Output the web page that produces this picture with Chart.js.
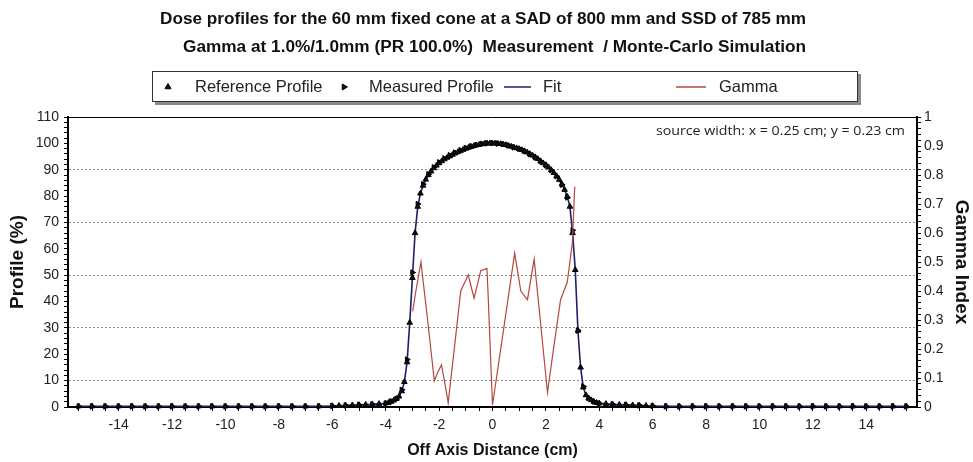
<!DOCTYPE html>
<html>
<head>
<meta charset="utf-8">
<script src="https://cdn.jsdelivr.net/npm/chart.js@4.4.1/dist/chart.umd.min.js"></script>
<style>
  html, body { margin: 0; background: #fff; }
  canvas { display: block; }
</style>
</head>
<body>
<canvas id="c" width="973" height="462"></canvas>
<script>
// ── Data ───────────────────────────────────────────────────────────────────
const refX = [-15.5,-15,-14.5,-14,-13.5,-13,-12.5,-12,-11.5,-11,-10.5,-10,-9.5,-9,-8.5,-8,-7.5,-7,-6.5,
  -6,-5.75,-5.5,-5.25,-5,-4.75,-4.5,-4.25,
  -4,-3.9,-3.8,-3.7,-3.6,-3.5,-3.4,-3.3,-3.2,-3.1,-3,-2.9,-2.8,-2.7,-2.6,-2.5,-2.4,-2.3,-2.2,-2.1,
  -2,-1.9,-1.8,-1.7,-1.6,-1.5,-1.4,-1.3,-1.2,-1.1,-1,-0.9,-0.8,-0.7,-0.6,-0.5,-0.4,-0.3,-0.2,-0.1,
  0,0.1,0.2,0.3,0.4,0.5,0.6,0.7,0.8,0.9,1,1.1,1.2,1.3,1.4,1.5,1.6,1.7,1.8,1.9,
  2,2.1,2.2,2.3,2.4,2.5,2.6,2.7,2.8,2.9,3,3.1,3.2,3.3,3.4,3.5,3.6,3.7,3.8,3.9,4,
  4.25,4.5,4.75,5,5.25,5.5,5.75,6,
  6.5,7,7.5,8,8.5,9,9.5,10,10.5,11,11.5,12,12.5,13,13.5,14,14.5,15,15.5];
const refY = [0.3,0.3,0.3,0.3,0.3,0.3,0.3,0.3,0.3,0.3,0.3,0.3,0.3,0.3,0.3,0.3,0.3,0.3,0.3,
  0.4,0.5,0.6,0.7,0.8,0.9,1.0,1.2,
  1.4,1.6,2.0,2.5,3.1,4.0,6.0,9.5,17,32,49,66,76,81,84,86.3,88,89.4,90.6,91.6,
  92.5,93.3,94.0,94.6,95.1,95.7,96.2,96.7,97.1,97.6,98.0,98.4,98.7,99.0,99.3,99.5,99.7,99.9,100,100,
  100,100,99.9,99.8,99.6,99.4,99.1,98.8,98.5,98.2,97.9,97.5,97.1,96.6,96.0,95.4,94.8,94.1,93.3,92.5,
  91.8,90.9,89.9,88.8,87.6,86.2,84.5,82.4,79.8,76,66,52,29,15,7.5,4.5,3.3,2.6,2.0,1.6,1.4,
  1.2,1.0,0.9,0.8,0.7,0.6,0.5,0.4,
  0.3,0.3,0.3,0.3,0.3,0.3,0.3,0.3,0.3,0.3,0.3,0.3,0.3,0.3,0.3,0.3,0.3,0.3,0.3];

const measX = [-15.5,-15,-14.5,-14,-13.5,-13,-12.5,-12,-11.5,-11,-10.5,-10,-9.5,-9,-8.5,-8,-7.5,-7,-6.5,
  -6,-5.5,-5,-4.5,
  -4,-3.8,-3.6,-3.4,-3.2,-3,-2.8,-2.6,-2.4,-2.2,-2,-1.8,-1.6,-1.4,-1.2,-1,-0.8,-0.6,-0.4,-0.2,
  0,0.2,0.4,0.6,0.8,1,1.2,1.4,1.6,1.8,2,2.2,2.4,2.6,2.8,3,3.2,3.4,3.6,3.8,4,
  4.5,5,5.5,6,
  6.5,7,7.5,8,8.5,9,9.5,10,10.5,11,11.5,12,12.5,13,13.5,14,14.5,15,15.5];
const measY = [0.2,0.2,0.2,0.2,0.2,0.2,0.2,0.2,0.2,0.2,0.2,0.2,0.2,0.2,0.2,0.2,0.2,0.2,0.2,
  0.4,0.6,0.8,1.0,
  1.3,2.1,3.0,6.5,18,51,77,84.5,88.3,90.9,92.8,94.3,95.5,96.5,97.4,98.2,98.9,99.4,99.8,100,
  100.1,99.9,99.7,99.2,98.5,97.9,97.0,95.9,94.7,93.2,91.7,89.8,87.5,84.3,79.5,67,29,7.8,3.4,2.1,1.3,
  1.0,0.8,0.6,0.4,
  0.2,0.2,0.2,0.2,0.2,0.2,0.2,0.2,0.2,0.2,0.2,0.2,0.2,0.2,0.2,0.2,0.2,0.2,0.2];

const gamX = [-2.99,-2.87,-2.68,-2.43,-2.18,-2.05,-1.91,-1.78,-1.66,-1.42,-1.19,-0.91,-0.69,-0.44,-0.21,-0.17,
  0.0,0.42,0.83,1.06,1.31,1.56,1.81,2.06,2.3,2.55,2.8,2.99,3.08];
const gamY = [0.33,0.40,0.50,0.30,0.09,0.12,0.145,0.08,0.014,0.21,0.40,0.455,0.375,0.47,0.478,0.40,
  0.007,0.27,0.53,0.40,0.37,0.51,0.28,0.05,0.21,0.37,0.43,0.565,0.76];

const xTickLabels = [-14,-12,-10,-8,-6,-4,-2,0,2,4,6,8,10,12,14];
const yTickLabels = [0,10,20,30,40,50,60,70,80,90,100,110];
const gTickLabels = [0,0.1,0.2,0.3,0.4,0.5,0.6,0.7,0.8,0.9,1];
const yGridLines = [10,30,50,70,90];

const titleLines = [
  "Dose profiles for the 60 mm fixed cone at a SAD of 800 mm and SSD of 785 mm",
  "Gamma at 1.0%/1.0mm (PR 100.0%)  Measurement  / Monte-Carlo Simulation",
];
const legendNames = ["Reference Profile", "Measured Profile", "Fit", "Gamma"];
const sourceNote = "source width: x = 0.25 cm; y = 0.23 cm";

// ── Styling ────────────────────────────────────────────────────────────────
const FONT = "'Liberation Sans', Arial, sans-serif";
const NARROW = "'Liberation Sans Narrow', 'Arial Narrow', 'Liberation Sans', Arial, sans-serif";
const fitColor = "#1c1f6b", gamColor = "#b5473f", txt = "#222";

const pts = (xs, ys) => xs.map((x, i) => ({ x, y: ys[i] }));
const near = (list, v, eps) => list.findIndex((t) => Math.abs(t - v) < eps);

// minor tick positions (axis decoration only)
const xMinor = [], yMinor = [], gMinor = [];
for (let i = -31; i <= 31; i++) xMinor.push(i / 2);
for (let i = 0; i <= 55; i++) yMinor.push(i * 2);
for (let i = 0; i <= 50; i++) gMinor.push(i / 50);

function fitText(ctx, text, x, y, w, align) {
  const m = ctx.measureText(text).width;
  ctx.save();
  ctx.translate(x, y);
  ctx.scale(w / m, 1);
  ctx.textAlign = align;
  ctx.fillText(text, 0, 0);
  ctx.restore();
}

// titles, legend box, source note, top frame
const decor = {
  id: "decor",
  afterDraw(chart) {
    const { ctx, chartArea: a } = chart;
    ctx.save();
    ctx.fillStyle = "#111";
    ctx.textBaseline = "middle";
    ctx.font = "bold 16px " + NARROW;
    fitText(ctx, titleLines[0], 483, 20, 646, "center");
    fitText(ctx, titleLines[1], 494.5, 48, 623, "center");

    // legend frame with shadow
    ctx.fillStyle = "#8a8a8a";
    ctx.fillRect(155, 74, 706, 31);
    ctx.fillStyle = "#fff";
    ctx.fillRect(152, 71, 706, 31);
    ctx.strokeStyle = "#333";
    ctx.lineWidth = 1;
    ctx.strokeRect(152.5, 71.5, 705, 30);

    const ly = 87;
    ctx.fillStyle = "#111"; ctx.strokeStyle = "#111";
    Chart.helpers.drawPoint(ctx, { pointStyle: "triangle", radius: 3.3, rotation: 0, borderWidth: 1 }, 168, ly);
    ctx.fill(); ctx.stroke();
    Chart.helpers.drawPoint(ctx, { pointStyle: "triangle", radius: 3.3, rotation: 90, borderWidth: 1 }, 344, ly);
    ctx.fill(); ctx.stroke();

    ctx.lineWidth = 1.5;
    ctx.strokeStyle = fitColor;
    ctx.beginPath(); ctx.moveTo(504, ly); ctx.lineTo(531, ly); ctx.stroke();
    ctx.strokeStyle = gamColor;
    ctx.beginPath(); ctx.moveTo(676, ly); ctx.lineTo(706, ly); ctx.stroke();

    ctx.fillStyle = txt;
    ctx.font = "16.5px " + FONT;
    ctx.textAlign = "left";
    ctx.fillText(legendNames[0], 195, ly);
    ctx.fillText(legendNames[1], 369, ly);
    ctx.fillText(legendNames[2], 543, ly);
    ctx.fillText(legendNames[3], 719, ly);

    // note in plot corner
    ctx.font = "13px 'Open Sans', " + FONT;
    fitText(ctx, sourceNote, 905, 131, 249, "right");

    // top edge of plot frame
    ctx.strokeStyle = "#000";
    ctx.lineWidth = 1;
    ctx.beginPath(); ctx.moveTo(a.left, a.top + 0.5); ctx.lineTo(a.right, a.top + 0.5); ctx.stroke();
    ctx.restore();
  },
};

const tickFont = { family: FONT, size: 14 };
const titleFont = (size) => ({ family: NARROW, size, weight: "bold" });

new Chart(document.getElementById("c"), {
  type: "scatter",
  data: {
    datasets: [
      { label: legendNames[3], data: pts(gamX, gamY), yAxisID: "y2", showLine: true,
        borderColor: gamColor, borderWidth: 1.2, pointRadius: 0, tension: 0 },
      { label: legendNames[0], data: pts(refX, refY), yAxisID: "y", pointStyle: "triangle",
        pointRadius: 3.2, backgroundColor: "#111", borderColor: "#000", borderWidth: 1, clip: false },
      { label: legendNames[1], data: pts(measX, measY), yAxisID: "y", pointStyle: "triangle", pointRotation: 90,
        pointRadius: 3.2, backgroundColor: "#111", borderColor: "#000", borderWidth: 1, clip: false },
      { label: legendNames[2], data: pts(refX, refY), yAxisID: "y", showLine: true,
        borderColor: fitColor, borderWidth: 1.6, pointRadius: 0, tension: 0 },
    ],
  },
  options: {
    responsive: false,
    animation: false,
    events: [],
    layout: { padding: { top: 117 } },
    plugins: { legend: { display: false }, title: { display: false }, tooltip: { enabled: false } },
    scales: {
      x: {
        type: "linear", min: -15.9, max: 15.9,
        afterFit: (s) => { s.height = 55; },
        afterBuildTicks: (s) => { s.ticks = xMinor.map((v) => ({ value: v })); },
        ticks: { autoSkip: false, maxRotation: 0, color: txt, font: tickFont, padding: 6,
          callback: (v) => (near(xTickLabels, v, 1e-6) >= 0 ? String(v) : "") },
        grid: { drawOnChartArea: false, tickLength: 4, tickColor: "#000" },
        border: { color: "#000", width: 2 },
        title: { display: true, text: "Off Axis Distance (cm)", color: "#111", font: titleFont(16), padding: { top: 0, bottom: 2 } },
      },
      y: {
        position: "left", min: 0, max: 110,
        afterFit: (s) => { s.width = 68; },
        afterBuildTicks: (s) => { s.ticks = yMinor.map((v) => ({ value: v })); },
        ticks: { autoSkip: false, color: txt, font: tickFont, padding: 5,
          callback: (v) => (near(yTickLabels, v, 1e-6) >= 0 ? String(v) : "") },
        grid: {
          color: (c) => (c.tick && yGridLines.includes(c.tick.value) ? "#8c8c8c" : "rgba(0,0,0,0)"),
          tickLength: 4, tickColor: "#000",
        },
        border: { color: "#000", width: 2, dash: [2, 2] },
        title: { display: true, text: "Profile (%)", color: "#111", font: titleFont(19), padding: { top: 6, bottom: 0 } },
      },
      y2: {
        position: "right", min: 0, max: 1,
        afterFit: (s) => { s.width = 56; },
        afterBuildTicks: (s) => { s.ticks = gMinor.map((v) => ({ value: v })); },
        ticks: { autoSkip: false, color: txt, font: tickFont, padding: 3,
          callback: (v) => { const k = near(gTickLabels, v, 1e-6); return k >= 0 ? String(gTickLabels[k]) : ""; } },
        grid: { drawOnChartArea: false, tickLength: 4, tickColor: "#000" },
        border: { color: "#000", width: 2 },
        title: { display: true, text: "Gamma Index", color: "#111", font: titleFont(19), padding: 0 },
      },
    },
  },
  plugins: [decor],
});
</script>
</body>
</html>
